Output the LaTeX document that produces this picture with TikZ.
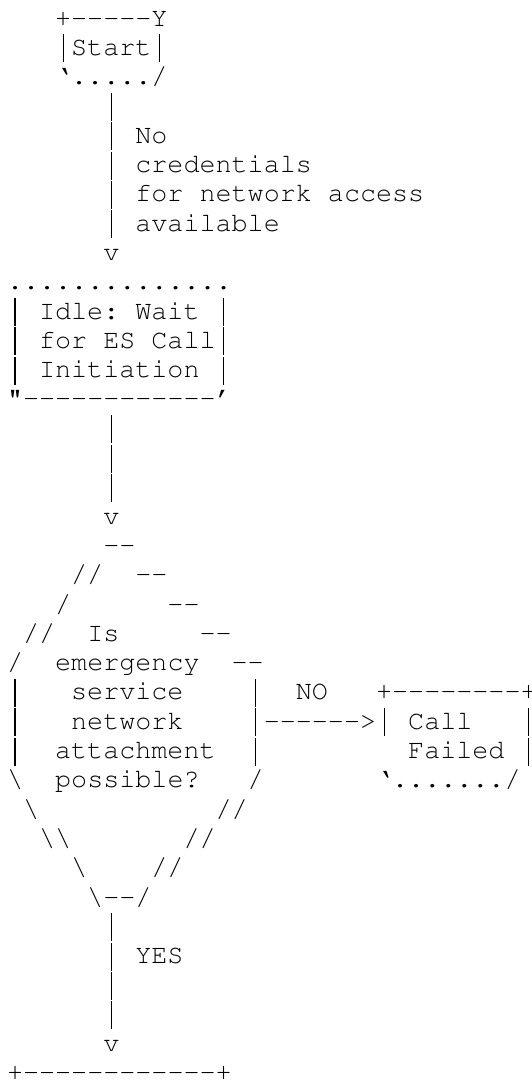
\documentclass[tikz,border=0pt]{standalone}
\usepackage[T1]{fontenc}
\usepackage{courier}
\tikzset{
  asciirow/.style={anchor=base west, inner sep=0pt, outer sep=0pt,
    font=\ttfamily\fontsize{26.75}{29.3}\selectfont, text=black}
}
\newcommand\bsl{\textbackslash}
\newcommand\hy{-\kern0pt}
\newcommand\vb{\makebox[16.05pt][c]{\rule[-7pt]{1.3pt}{28pt}}}
\begin{document}
\begin{tikzpicture}[x=1pt,y=1pt]
\useasboundingbox (0,0) rectangle (531,-1082);
\fill[white] (0,0) rectangle (531,-1082);
\foreach \r/\t in {
  1/{~~~+\hy\hy\hy\hy\hy Y},
  2/{~~~\vb Start\vb},
  3/{~~~`...../},
  4/{~~~~~~\vb},
  5/{~~~~~~\vb~No},
  6/{~~~~~~\vb~credentials},
  7/{~~~~~~\vb~for~network~access},
  8/{~~~~~~\vb~available},
  9/{~~~~~~v},
  10/{..............},
  11/{\vb~Idle:~Wait~\vb},
  12/{\vb~for~ES~Call\vb},
  13/{\vb~Initiation~\vb},
  14/{"\hy\hy\hy\hy\hy\hy\hy\hy\hy\hy\hy\hy'},
  15/{~~~~~~\vb},
  16/{~~~~~~\vb},
  17/{~~~~~~\vb},
  18/{~~~~~~v},
  19/{~~~~~~\hy\hy},
  20/{~~~~//~~\hy\hy},
  21/{~~~/~~~~~~\hy\hy},
  22/{~//~~Is~~~~~\hy\hy},
  23/{/~~emergency~~\hy\hy},
  24/{\vb~~~service~~~~\vb~~NO~~~+\hy\hy\hy\hy\hy\hy\hy\hy+},
  25/{\vb~~~network~~~~\vb\hy\hy\hy\hy\hy\hy>\vb~Call~~~\vb},
  26/{\vb~~attachment~~\vb~~~~~~~~~Failed~\vb},
  27/{\bsl~~possible?~~~/~~~~~~~`......./},
  28/{~\bsl~~~~~~~~~~~//},
  29/{~~\bsl\bsl~~~~~~~//},
  30/{~~~~\bsl~~~~//},
  31/{~~~~~\bsl\hy\hy/},
  32/{~~~~~~\vb},
  33/{~~~~~~\vb~YES},
  34/{~~~~~~\vb},
  35/{~~~~~~\vb},
  36/{~~~~~~v},
  37/{+\hy\hy\hy\hy\hy\hy\hy\hy\hy\hy\hy\hy+}
}{
  \node[asciirow] (r\r) at (7,{-26-29.3*(\r-1)}) {\t};
}
\end{tikzpicture}
\end{document}
